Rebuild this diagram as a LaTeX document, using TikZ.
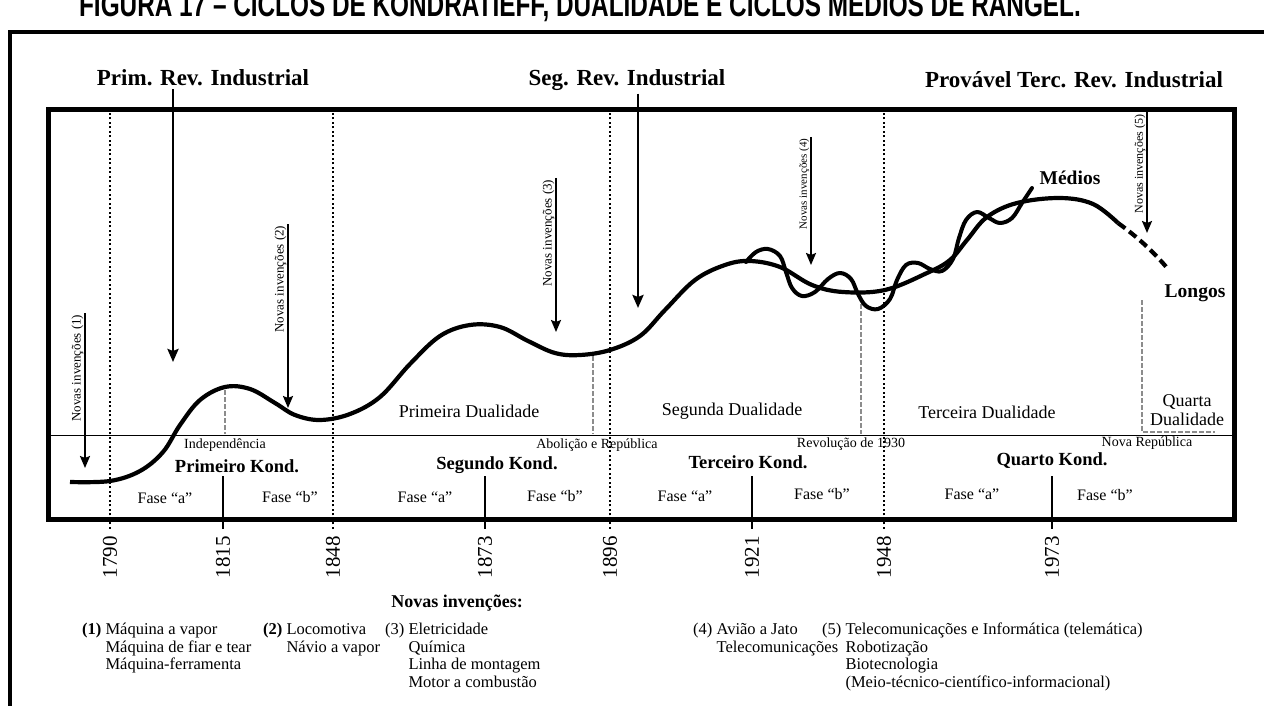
\documentclass[tikz,border=0pt]{standalone}
\usepackage{fontspec}
\setmainfont{Liberation Serif}
\newfontfamily\titlefont{Liberation Sans}
\usetikzlibrary{arrows.meta}
\tikzset{
  titlelbl/.style={font=\titlefont\fontsize{34}{36}\selectfont\bfseries, xscale=0.716, anchor=base},
  revlbl/.style={font=\fontsize{23}{26}\selectfont\bfseries, inner sep=3pt},
  kondlbl/.style={font=\fontsize{18.5}{21}\selectfont\bfseries},
  duallbl/.style={font=\fontsize{18}{19.5}\selectfont, align=center},
  faselbl/.style={font=\fontsize{16}{18}\selectfont},
  eventlbl/.style={font=\fontsize{14}{16}\selectfont},
  yearlbl/.style={font=\fontsize{21}{24}\selectfont, rotate=90, inner xsep=7pt, inner ysep=0pt},
  invlbl/.style={font=\fontsize{13}{15}\selectfont, rotate=90, inner sep=1.5pt, anchor=south east},
  leglbl/.style={font=\fontsize{16.5}{17.7}\selectfont, anchor=north west, inner sep=0pt},
  cyclelbl/.style={font=\fontsize{19.5}{22}\selectfont\bfseries},
  revarrow/.style={line width=2.6pt, -{Stealth[length=13pt,width=11pt,inset=2pt]}},
  invarrow/.style={line width=2pt, -{Stealth[length=12pt,width=10pt,inset=2pt]}},
  yearline/.style={line width=1.6pt, dash pattern=on 2pt off 2.5pt},
  kondtick/.style={line width=1.6pt},
  dualline/.style={line width=1.5pt, black!45, dash pattern=on 5pt off 2pt},
  longcurve/.style={line width=4.2pt, line join=round},
  wavecurve/.style={line width=4pt, line join=round, line cap=round},
}
\begin{document}
\begin{tikzpicture}[x=1pt,y=-1pt]
\useasboundingbox (0,0) rectangle (1264,706);
\node[titlelbl] (title) at (580,17) {FIGURA 17 – CICLOS DE KONDRATIEFF, DUALIDADE E CICLOS MÉDIOS DE RANGEL.};
\draw[line width=3.5pt] (10,720) -- (10,32) -- (1280,32);
\coordinate (boxnw) at (48,110);
\coordinate (boxse) at (1234,519);
\coordinate (sepw) at (48,435);
\draw[line width=5pt] (boxnw) rectangle (boxse);
\draw[line width=1pt] (sepw) -- (sepw -| boxse);

\node[yearlbl] (y1790) at (110,557) {1790};
\node[yearlbl] (y1815) at (223,557) {1815};
\node[yearlbl] (y1848) at (333,557) {1848};
\node[yearlbl] (y1873) at (485,557) {1873};
\node[yearlbl] (y1896) at (610,557) {1896};
\node[yearlbl] (y1921) at (752,557) {1921};
\node[yearlbl] (y1948) at (884,557) {1948};
\node[yearlbl] (y1973) at (1052,557) {1973};
\draw[yearline] (y1790.east) -- (y1790.east |- boxnw);
\draw[yearline] (y1848.east) -- (y1848.east |- boxnw);
\draw[yearline] (y1896.east) -- (y1896.east |- boxnw);
\draw[yearline] (y1948.east) -- (y1948.east |- boxnw);
\draw[kondtick] (y1815.east) -- ++(0,-53);
\draw[kondtick] (y1873.east) -- ++(0,-53);
\draw[kondtick] (y1921.east) -- ++(0,-53);
\draw[kondtick] (y1973.east) -- ++(0,-53);

\draw[dualline] (225,390) -- (225,434);
\draw[dualline] (593,356) -- (593,434);
\draw[dualline] (861,304) -- (861,434);
\draw[dualline] (1142,300) -- (1142,432) -- (1215,432);

\node[duallbl] (dual1) at (469,411) {Primeira Dualidade};
\node[duallbl] (dual2) at (732,411) {Segunda Dualidade};
\node[duallbl] (dual3) at (987,412) {Terceira Dualidade};
\node[duallbl] (dual4) at (1187,410) {Quarta\\Dualidade};
\node[eventlbl] (indep) at (225,445) {Independência};
\node[eventlbl] (abol) at (597,445) {Abolição e República};
\node[eventlbl] (revol) at (851,444) {Revolução de 1930};
\node[eventlbl] (novarep) at (1147,443) {Nova República};
\node[kondlbl] (kond1) at (237,466) {Primeiro Kond.};
\node[kondlbl] (kond2) at (497,465) {Segundo Kond.};
\node[kondlbl] (kond3) at (748,462) {Terceiro Kond.};
\node[kondlbl] (kond4) at (1052,461) {Quarto Kond.};
\node[faselbl] (fa1) at (165,498) {Fase “a”};
\node[faselbl] (fb1) at (290,497) {Fase “b”};
\node[faselbl] (fa2) at (425,497) {Fase “a”};
\node[faselbl] (fb2) at (555,496) {Fase “b”};
\node[faselbl] (fa3) at (685,496) {Fase “a”};
\node[faselbl] (fb3) at (822,494) {Fase “b”};
\node[faselbl] (fa4) at (972,494) {Fase “a”};
\node[faselbl] (fb4) at (1105,495) {Fase “b”};

\draw[longcurve] plot[smooth, tension=0.6] coordinates {(70,482) (110,481) (140,471) (163,452) (180,425) (200,400) (225,387) (250,389) (275,403) (295,415) (320,420) (350,414) (380,397) (410,364) (440,336) (470,325) (500,327) (528,341) (555,353) (580,355) (610,350) (640,336) (665,310) (695,280) (725,265) (750,261) (780,267) (812,285) (843,292) (885,290) (927,273) (950,260) (967,240) (987,217) (1017,203) (1060,198) (1093,204) (1118,223)};
\draw[longcurve, dash pattern=on 9pt off 5pt] (1118,223) .. controls (1136,236) and (1152,250) .. (1168,269);
\draw[wavecurve] plot[smooth, tension=0.6] coordinates {(746,262) (756,252) (768,249) (780,256) (786,272) (792,288) (802,296) (815,292) (828,279) (840,273) (851,279) (858,294) (866,306) (878,309) (890,299) (897,280) (906,265) (918,263) (930,269) (942,271) (953,259) (959,238) (966,220) (977,212) (989,218) (1000,223) (1012,218) (1022,203) (1032,188)};
\node[cyclelbl] (medios) at (1070,178) {Médios};
\node[cyclelbl] (longos) at (1195,293) {Longos};

\node[revlbl] (prim) at (203,78) {Prim. Rev. Industrial};
\node[revlbl] (seg) at (627,80) {Seg. Rev. Industrial};
\node[revlbl] (terc) at (1074,80) {Provável Terc. Rev. Industrial};
\coordinate (primtip) at (173,362);
\coordinate (segtip) at (638,308);
\draw[revarrow] (primtip |- prim.south) -- (primtip);
\draw[revarrow] (segtip |- seg.south) -- (segtip);

\node[invlbl] (inv1) at (85,313) {Novas invenções (1)};
\node[invlbl] (inv2) at (288,224) {Novas invenções (2)};
\node[invlbl] (inv3) at (556,178) {Novas invenções (3)};
\node[invlbl, font=\fontsize{11}{13}\selectfont] (inv4) at (811,137) {Novas invenções (4)};
\node[invlbl, font=\fontsize{12}{14}\selectfont] (inv5) at (1147,113) {Novas invenções (5)};
\coordinate (tip1) at (85,468);
\coordinate (tip2) at (288,408);
\coordinate (tip3) at (556,332);
\coordinate (tip4) at (811,265);
\coordinate (tip5) at (1147,233);
\draw[invarrow] (inv1.south east) -- (tip1);
\draw[invarrow] (inv2.south east) -- (tip2);
\draw[invarrow] (inv3.south east) -- (tip3);
\draw[invarrow] (inv4.south east) -- (tip4);
\draw[invarrow] (inv5.south east |- boxnw) -- (tip5);

\node[font=\fontsize{18}{20}\selectfont\bfseries] (legtitle) at (457,603) {Novas invenções:};
\node[leglbl] (leg1) at (82,622) {\begin{tabular}{@{}l@{\ }l@{}}\textbf{(1)} & Máquina a vapor\\ & Máquina de fiar e tear\\ & Máquina-ferramenta\end{tabular}};
\node[leglbl] (leg2) at (263,622) {\begin{tabular}{@{}l@{\ }l@{}}\textbf{(2)} & Locomotiva\\ & Návio a vapor\end{tabular}};
\node[leglbl] (leg3) at (385,622) {\begin{tabular}{@{}l@{\ }l@{}}(3) & Eletricidade\\ & Química\\ & Linha de montagem\\ & Motor a combustão\end{tabular}};
\node[leglbl] (leg4) at (693,622) {\begin{tabular}{@{}l@{\ }l@{}}(4) & Avião a Jato\\ & Telecomunicações\end{tabular}};
\node[leglbl] (leg5) at (822,622) {\begin{tabular}{@{}l@{\ }l@{}}(5) & Telecomunicações e Informática (telemática)\\ & Robotização\\ & Biotecnologia\\ & (Meio-técnico-científico-informacional)\end{tabular}};
\end{tikzpicture}
\end{document}
